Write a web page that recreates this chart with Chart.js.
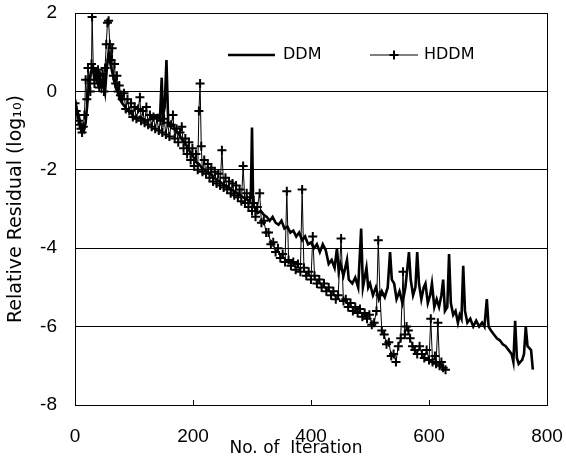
<!DOCTYPE html>
<html>
<head>
<meta charset="utf-8">
<script src="https://cdn.jsdelivr.net/npm/chart.js@4.4.0/dist/chart.umd.min.js"></script>
<style>
  html, body { margin: 0; padding: 0; background: #fff; }
  #wrap { width: 566px; height: 463px; }
</style>
</head>
<body>
<div id="wrap"><canvas id="resChart" width="566" height="463"></canvas></div>
<script>
// DDM residual history (iteration, log10 residual)
const ddmIter = [0,3,6,9,12,15,18,21,24,27,30,33,36,39,42,45,48,51,54,57,60,63,66,69,72,76,80,85,90,95,
  100,105,110,115,120,125,130,135,140,144,147,149,152,155,158,162,166,170,175,180,185,190,195,200,205,210,215,220,225,230,
  235,240,245,250,255,260,265,270,275,280,285,290,295,298,300,302,306,310,315,320,325,330,335,340,345,350,355,360,365,370,
  375,380,385,390,395,400,405,410,415,420,425,430,435,440,444,447,450,455,461,464,470,475,480,485,488,494,497,500,505,510,
  515,520,525,530,534,537,541,545,550,555,560,566,569,573,577,580,583,587,591,594,598,602,605,609,613,617,621,624,627,631,
  634,637,641,645,649,652,655,658,661,665,670,675,680,685,690,694,698,701,705,710,715,720,725,730,735,740,743,746,749,752,
  755,758,761,764,767,770,773,776];
const ddmVal = [-0.2,-0.45,-0.6,-0.8,-0.9,-1.0,-0.8,-0.3,0.2,0.5,0.6,0.3,0.45,0.2,0.35,0.1,0.3,0.0,0.6,1.0,0.7,0.5,0.3,0.1,0.0,-0.2,-0.3,-0.4,-0.5,-0.55,
  -0.65,-0.7,-0.65,-0.7,-0.75,-0.72,-0.7,-0.62,-0.6,-0.7,0.35,-0.65,-0.4,0.8,-0.8,-0.9,-0.85,-1.0,-1.05,-1.2,-1.3,-1.4,-1.55,-1.65,-1.8,-1.85,-1.95,-2.0,-2.05,-2.1,
  -2.2,-2.25,-2.3,-2.35,-2.4,-2.45,-2.5,-2.55,-2.6,-2.65,-2.7,-2.75,-2.8,-2.7,-0.92,-2.9,-3.0,-3.1,-3.05,-3.15,-3.2,-3.3,-3.2,-3.35,-3.4,-3.3,-3.5,-3.45,-3.6,-3.55,
  -3.7,-3.6,-3.8,-3.7,-3.9,-3.85,-4.0,-3.9,-4.1,-3.9,-4.05,-4.4,-4.3,-4.5,-4.0,-4.6,-4.4,-4.7,-4.3,-4.8,-4.9,-4.75,-5.0,-3.5,-5.0,-4.5,-5.0,-4.9,-5.2,-5.0,
  -5.3,-5.1,-5.25,-5.0,-4.1,-4.8,-4.9,-5.3,-5.1,-5.4,-5.0,-4.1,-4.8,-5.2,-5.0,-4.1,-4.9,-5.3,-5.0,-4.9,-5.4,-5.2,-4.9,-5.5,-5.3,-5.5,-5.2,-4.8,-5.6,-5.5,
  -4.15,-5.4,-5.7,-5.6,-5.9,-5.7,-5.8,-4.45,-5.6,-5.9,-5.8,-6.0,-5.85,-6.0,-5.9,-6.0,-5.3,-6.0,-6.1,-6.2,-6.3,-6.35,-6.45,-6.5,-6.6,-6.7,-6.9,-5.85,-6.8,-6.95,
  -6.9,-6.85,-6.7,-6.0,-6.5,-6.55,-6.6,-7.1];

// HDDM residual history (iteration, log10 residual)
const hddmIter = [0,2,4,6,8,10,12,14,16,18,20,22,24,26,28,29,31,33,35,37,39,41,43,45,47,49,51,53,55,57,
  59,61,63,65,67,69,71,73,75,77,80,83,86,89,92,95,98,101,104,107,110,112,115,118,121,124,127,130,133,136,
  139,142,145,148,151,154,157,160,163,166,169,172,175,178,181,184,187,190,193,196,199,202,205,208,210,212,214,216,219,222,
  225,228,231,234,237,240,243,246,249,252,255,258,261,264,267,270,273,276,279,282,285,288,291,294,297,300,303,306,309,313,
  316,320,324,328,332,336,340,344,348,352,356,359,362,366,370,374,378,382,385,388,392,396,400,403,406,410,414,418,422,426,
  430,434,438,442,446,451,455,459,463,467,471,475,479,483,487,491,495,499,503,507,511,514,517,520,524,528,532,536,540,544,
  548,552,556,559,562,565,568,572,576,580,584,588,592,596,600,603,606,610,612,615,618,621,624,628];
const hddmVal = [-0.3,-0.5,-0.6,-0.75,-0.85,-0.95,-1.05,-0.9,-0.6,0.3,-0.2,0.6,0.3,0.0,0.7,1.9,0.6,0.2,0.5,0.3,0.55,0.1,0.4,0.2,0.45,0.0,0.6,1.2,1.75,1.8,
  1.2,0.8,1.1,0.4,0.7,0.2,0.4,0.0,0.15,-0.1,-0.2,-0.05,-0.45,-0.2,-0.5,-0.3,-0.65,-0.4,-0.7,-0.45,-0.15,-0.75,-0.5,-0.8,-0.4,-0.85,-0.6,-0.9,-0.65,-0.95,
  -0.7,-1.0,-0.75,-1.05,-0.7,-1.1,-0.8,-1.15,-0.85,-0.6,-1.2,-0.95,-1.3,-1.05,-0.9,-1.45,-1.2,-1.6,-1.3,-1.75,-1.45,-1.9,-1.6,-2.0,-0.5,0.2,-1.4,-2.05,-1.75,-2.1,
  -1.85,-2.2,-1.95,-2.3,-2.05,-2.35,-2.1,-2.4,-1.5,-2.45,-2.2,-2.5,-2.3,-2.6,-2.35,-2.65,-2.4,-2.7,-2.5,-2.8,-1.9,-2.85,-2.6,-2.95,-2.7,-3.05,-2.85,-3.2,-2.95,-2.6,
  -3.35,-3.3,-3.6,-3.6,-3.9,-3.85,-4.1,-4.0,-4.25,-4.15,-4.35,-2.55,-4.3,-4.45,-4.35,-4.55,-4.4,-4.6,-2.5,-4.5,-4.7,-4.6,-4.8,-3.7,-4.7,-4.9,-4.8,-5.0,-4.9,-5.1,
  -5.0,-5.2,-5.1,-5.3,-5.2,-3.75,-5.35,-5.3,-5.5,-5.4,-5.6,-5.5,-5.65,-5.55,-5.75,-5.65,-5.8,-5.7,-5.95,-5.9,-5.6,-3.8,-5.2,-6.1,-6.2,-6.45,-6.4,-6.75,-6.7,-6.9,
  -6.5,-6.3,-4.6,-6.2,-6.0,-6.1,-6.3,-6.5,-6.6,-6.7,-6.5,-6.7,-6.8,-6.6,-6.85,-5.8,-6.9,-6.75,-6.95,-5.9,-7.0,-6.9,-7.05,-7.1];

const xTicks = [0, 200, 400, 600, 800];
const yTicks = [-8, -6, -4, -2, 0, 2];

const TICK_FONT = 'Liberation Sans Narrow, Arial Narrow, Liberation Sans, sans-serif';
const TEXT_FONT = 'DejaVu Sans, Verdana, sans-serif';
const CLEAR = 'rgba(0,0,0,0)';

function toPoints(xs, ys) {
  return xs.map((x, i) => ({ x: x, y: ys[i] }));
}

// frame, inside tick marks, x title and legend drawn on top
const framePlugin = {
  id: 'frame',
  afterDraw(chart) {
    const ctx = chart.ctx;
    const a = chart.chartArea;
    const xs = chart.scales.x;
    ctx.save();
    ctx.strokeStyle = '#000';
    ctx.lineWidth = 1;
    ctx.strokeRect(Math.round(a.left) + 0.5, Math.round(a.top) + 0.5,
      Math.round(a.right - a.left), Math.round(a.bottom - a.top));
    xTicks.forEach(v => {
      const px = Math.round(xs.getPixelForValue(v)) + 0.5;
      ctx.beginPath();
      ctx.moveTo(px, a.bottom);
      ctx.lineTo(px, a.bottom - 5);
      ctx.stroke();
    });

    ctx.fillStyle = '#000';
    // x axis title sits a bit left of centre in the original
    ctx.font = '17px ' + TEXT_FONT;
    ctx.textAlign = 'center';
    ctx.textBaseline = 'middle';
    ctx.fillText('No. of  Iteration', a.left + 221, a.bottom + 44);

    // legend
    const ly = a.top + 42;
    ctx.lineWidth = 2.5;
    ctx.beginPath();
    ctx.moveTo(a.left + 153, ly);
    ctx.lineTo(a.left + 200, ly);
    ctx.stroke();
    ctx.lineWidth = 1;
    ctx.beginPath();
    ctx.moveTo(a.left + 295, ly);
    ctx.lineTo(a.left + 343, ly);
    ctx.stroke();
    ctx.lineWidth = 2;
    ctx.beginPath();
    ctx.moveTo(a.left + 319, ly - 4.5);
    ctx.lineTo(a.left + 319, ly + 4.5);
    ctx.moveTo(a.left + 314.5, ly);
    ctx.lineTo(a.left + 323.5, ly);
    ctx.stroke();
    ctx.font = '16px ' + TEXT_FONT;
    ctx.textAlign = 'left';
    ctx.fillText('DDM', a.left + 208, ly);
    ctx.fillText('HDDM', a.left + 349, ly);
    ctx.restore();
  }
};

const ctx = document.getElementById('resChart').getContext('2d');
const resChart = new Chart(ctx, {
  type: 'line',
  data: {
    datasets: [
      {
        label: 'HDDM',
        data: toPoints(hddmIter, hddmVal),
        borderColor: '#000',
        borderWidth: 1,
        pointStyle: 'cross',
        pointRadius: 4.5,
        pointBorderWidth: 2,
        pointBorderColor: '#000',
        fill: false,
        tension: 0
      },
      {
        label: 'DDM',
        data: toPoints(ddmIter, ddmVal),
        borderColor: '#000',
        borderWidth: 2.6,
        pointRadius: 0,
        fill: false,
        tension: 0
      }
    ]
  },
  options: {
    responsive: false,
    animation: false,
    layout: { padding: { top: 13, right: 19, left: 0, bottom: 0 } },
    plugins: {
      legend: { display: false },
      tooltip: { enabled: false }
    },
    scales: {
      x: {
        type: 'linear',
        min: 0,
        max: 800,
        afterFit(scale) { scale.height = 58; },
        afterBuildTicks(scale) { scale.ticks = xTicks.map(v => ({ value: v })); },
        grid: { display: true, drawOnChartArea: false, drawTicks: true, tickLength: 20, tickColor: CLEAR },
        border: { display: true, color: '#000', width: 1 },
        ticks: { color: '#000', padding: 0, font: { family: TICK_FONT, size: 19 }, maxRotation: 0 },
        title: { display: false }
      },
      y: {
        min: -8,
        max: 2,
        afterFit(scale) { scale.width = 75; },
        afterBuildTicks(scale) { scale.ticks = yTicks.map(v => ({ value: v })); },
        grid: {
          color: (c) => (c.tick && (c.tick.value === 2 || c.tick.value === -8)) ? CLEAR : '#000',
          lineWidth: 1,
          drawTicks: true,
          tickLength: 18,
          tickColor: CLEAR
        },
        border: { display: true, color: '#000', width: 1 },
        ticks: { color: '#000', padding: 0, font: { family: TICK_FONT, size: 19 } },
        title: {
          display: true,
          text: 'Relative Residual (log\u2081\u2080)',
          color: '#000',
          font: { family: TEXT_FONT, size: 19 },
          padding: { top: 5, bottom: 0 }
        }
      }
    }
  },
  plugins: [framePlugin]
});
</script>
</body>
</html>
